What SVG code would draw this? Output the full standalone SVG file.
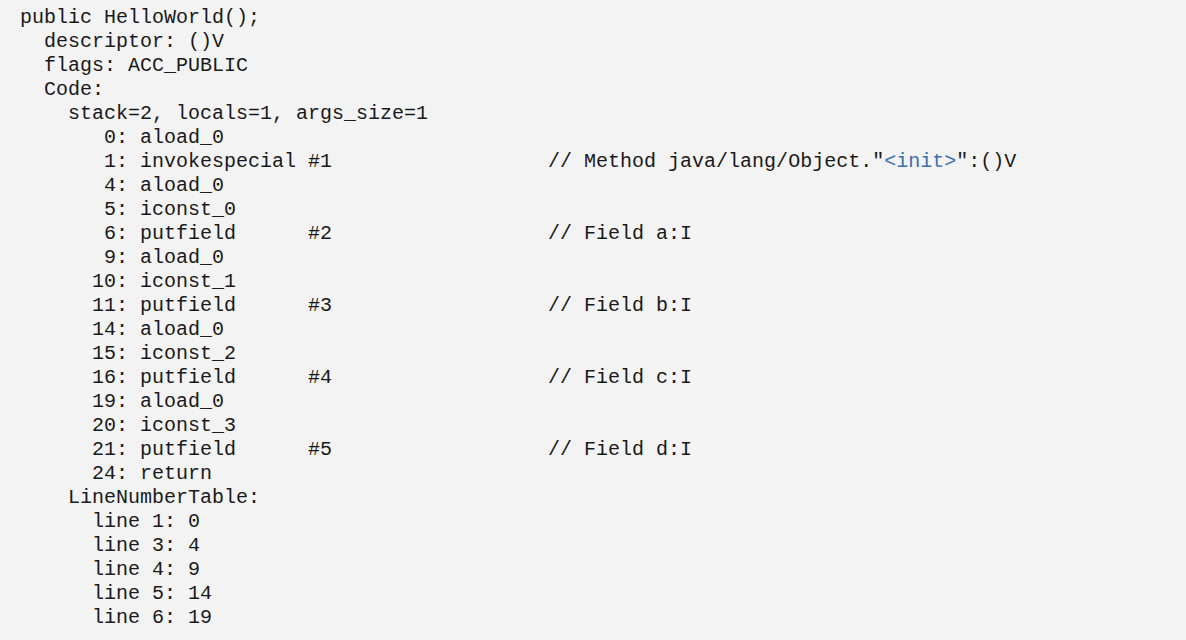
<svg xmlns="http://www.w3.org/2000/svg" width="1186" height="640" viewBox="0 0 1186 640">
<style>
text{font-family:"Liberation Mono","Noto Sans CJK SC",monospace;font-size:20px;fill:#1a1a1a;white-space:pre}
.b{fill:#3a6fb0}
</style>
<rect width="1186" height="640" fill="#f3f3f3"/>
<g id="code" xml:space="preserve">
<text x="20" y="23">public HelloWorld();</text>
<text x="20" y="47">  descriptor: ()V</text>
<text x="20" y="71">  flags: ACC_PUBLIC</text>
<text x="20" y="95">  Code:</text>
<text x="20" y="119">    stack=2, locals=1, args_size=1</text>
<text x="20" y="143">       0: aload_0</text>
<text x="20" y="167">       1: invokespecial #1                  // Method java/lang/Object."<tspan class="b">&lt;init&gt;</tspan>":()V</text>
<text x="20" y="191">       4: aload_0</text>
<text x="20" y="215">       5: iconst_0</text>
<text x="20" y="239">       6: putfield      #2                  // Field a:I</text>
<text x="20" y="263">       9: aload_0</text>
<text x="20" y="287">      10: iconst_1</text>
<text x="20" y="311">      11: putfield      #3                  // Field b:I</text>
<text x="20" y="335">      14: aload_0</text>
<text x="20" y="359">      15: iconst_2</text>
<text x="20" y="383">      16: putfield      #4                  // Field c:I</text>
<text x="20" y="407">      19: aload_0</text>
<text x="20" y="431">      20: iconst_3</text>
<text x="20" y="455">      21: putfield      #5                  // Field d:I</text>
<text x="20" y="479">      24: return</text>
<text x="20" y="503">    LineNumberTable:</text>
<text x="20" y="527">      line 1: 0</text>
<text x="20" y="551">      line 3: 4</text>
<text x="20" y="575">      line 4: 9</text>
<text x="20" y="599">      line 5: 14</text>
<text x="20" y="623">      line 6: 19</text>
</g>
</svg>
